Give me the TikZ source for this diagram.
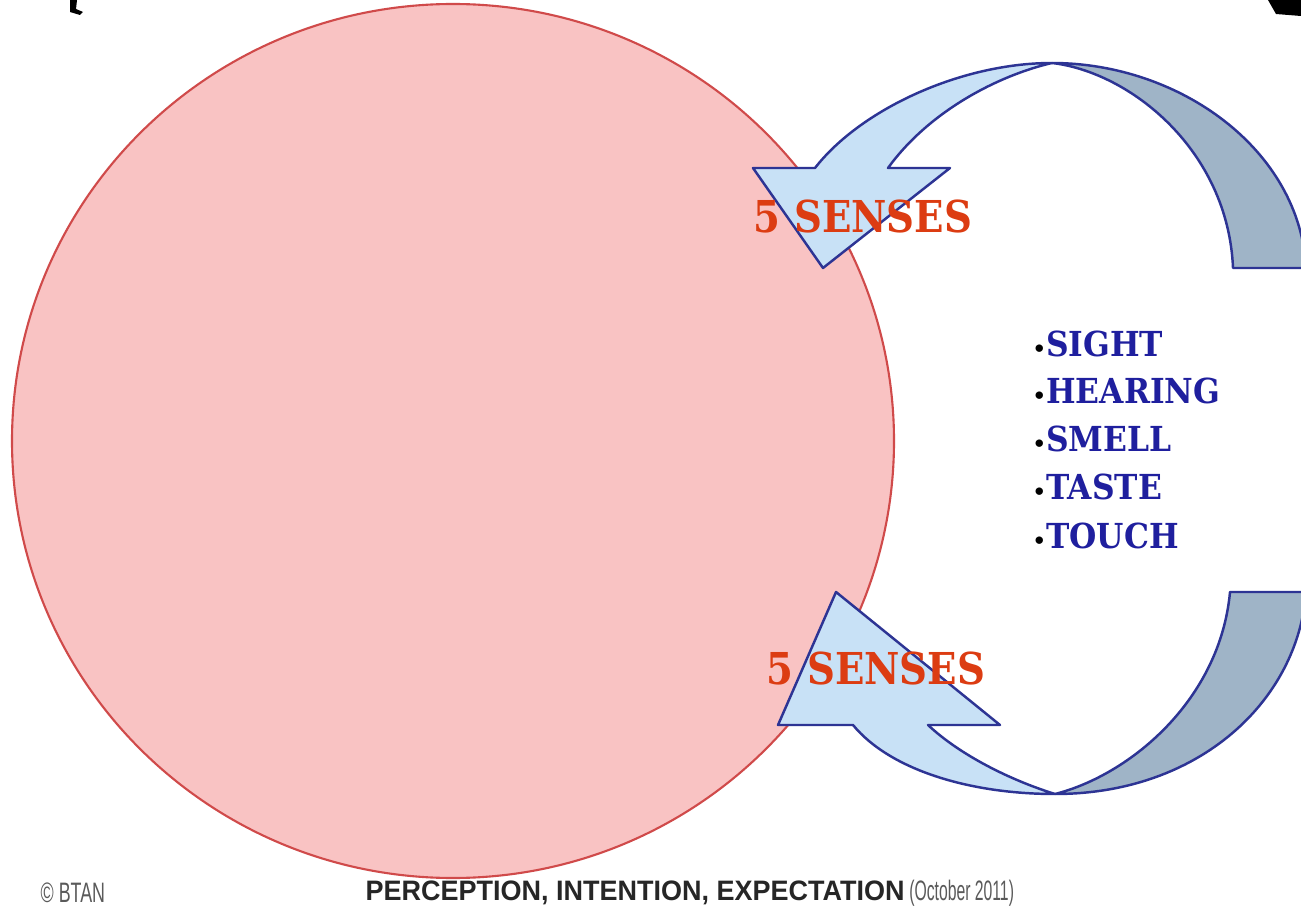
\documentclass[tikz,border=0pt]{standalone}
\usepackage{fontspec}
\setmainfont{DejaVu Serif}
\newfontfamily\footfont{Liberation Sans}

\definecolor{discpink}{HTML}{F9C3C3}
\definecolor{discred}{HTML}{D04A4A}
\definecolor{arrowlight}{HTML}{C8E1F6}
\definecolor{arrowdark}{HTML}{9FB4C7}
\definecolor{arrowline}{HTML}{2D3494}
\definecolor{sensered}{HTML}{DC3C12}
\definecolor{listblue}{HTML}{1F1F9E}
\definecolor{footgray}{HTML}{5A5A5A}

\newcommand{\listdot}{\textcolor{black}{\fontsize{6}{6}\selectfont\textbullet}}

\tikzset{
  disc/.style={draw=discred, fill=discpink, line width=0.6pt},
  lightband/.style={draw=arrowline, fill=arrowlight, line width=0.7pt, line join=round},
  darkband/.style={draw=arrowline, fill=arrowdark, line width=0.7pt, line join=round},
  sense label/.style={text=sensered, inner sep=0pt, font=\bfseries\fontsize{12.5}{12.5}\selectfont},
  sense item/.style={text=listblue, inner sep=0pt, anchor=west, font=\bfseries\fontsize{9.8}{9.8}\selectfont},
  foot/.style={text=footgray, inner sep=0pt, anchor=west, font=\footfont\fontsize{8}{8}\selectfont}
}

\begin{document}
\begin{tikzpicture}[x=0.1mm, y=-0.1mm]
  \useasboundingbox (0,0) rectangle (1301,909);
  \fill[white] (0,0) rectangle (1301,909);
  % bits of cut-off shapes at the top edge
  \fill[black] (70,0) -- (77,0) -- (76,9) -- (83,12) -- (80,15) -- (70,12) -- cycle;
  \fill[black] (1268,0) -- (1301,0) -- (1301,16) -- (1276,14) -- cycle;

  % the big disc
  \draw[disc] (453,441) ellipse [x radius=441, y radius=437];

  \coordinate (toptwist) at (1052,63);
  \coordinate (bottwist) at (1055,794);

  % upper curved arrow
  \filldraw[darkband] (toptwist) .. controls (1180,63) and (1300,150) .. (1306,268)
      -- (1233,268) .. controls (1228,150) and (1130,72) .. (toptwist) -- cycle;
  \filldraw[lightband] (toptwist) .. controls (960,63) and (860,110) .. (815,168)
      -- (753,168) -- (823,268) -- (950,168) -- (888,168)
      .. controls (930,110) and (1000,75) .. (toptwist) -- cycle;

  % lower curved arrow
  \filldraw[darkband] (bottwist) .. controls (1200,794) and (1298,700) .. (1306,592)
      -- (1230,592) .. controls (1220,700) and (1130,775) .. (bottwist) -- cycle;
  \filldraw[lightband] (bottwist) .. controls (970,794) and (890,770) .. (853,725)
      -- (778,725) -- (836,592) -- (1000,725) -- (928,725)
      .. controls (960,755) and (1010,780) .. (bottwist) -- cycle;

  \node[sense label] (topsenses) at (863,217) {\scalebox{0.88}[1]{5 SENSES}};
  \node[sense label] (botsenses) at (876,669) {\scalebox{0.88}[1]{5 SENSES}};

  \draw
    (1032,344) node[sense item] (sight) {\listdot\scalebox{0.91}[1]{SIGHT}}
    (1032,391) node[sense item] (hearing) {\listdot\scalebox{0.91}[1]{HEARING}}
    (1032,439) node[sense item] (smell) {\listdot\scalebox{0.91}[1]{SMELL}}
    (1032,487) node[sense item] (taste) {\listdot\scalebox{0.91}[1]{TASTE}}
    (1032,536) node[sense item] (touch) {\listdot\scalebox{0.91}[1]{TOUCH}};

  % footer
  \node[foot] (credit) at (40,893) {\scalebox{0.635}[1]{© BTAN}};
  \node[foot] (title) at (365,893)
    {\scalebox{0.96}[1]{\textcolor{black!85}{\bfseries PERCEPTION, INTENTION, EXPECTATION}}\,\scalebox{0.56}[1]{(October 2011)}};
\end{tikzpicture}
\end{document}
